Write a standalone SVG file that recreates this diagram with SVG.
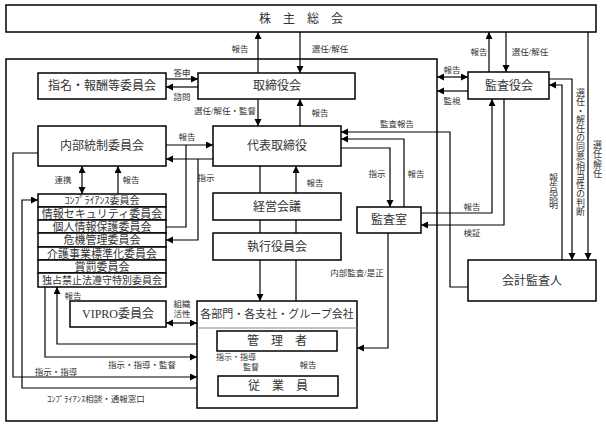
<svg xmlns="http://www.w3.org/2000/svg" width="606" height="427" viewBox="0 0 606 427">
<style>
.b{fill:#fff;stroke:#000;stroke-width:1.5}
.c{fill:none;stroke:#000;stroke-width:1.2}
.t{font-family:'Liberation Serif','Noto Sans CJK JP',serif;fill:#333;text-anchor:middle;dominant-baseline:central}
.n{font-size:12px}
.r{font-size:11px}
.l{font-size:8.5px}
.v{font-family:'Liberation Serif','Noto Sans CJK JP',serif;fill:#333;font-size:9px;writing-mode:vertical-rl;text-anchor:start}
</style>
<defs>
<marker id="a" markerUnits="userSpaceOnUse" markerWidth="8" markerHeight="8" refX="7" refY="3.5" orient="auto-start-reverse"><path d="M0,0L7,3.5L0,7z" fill="#000"/></marker>
</defs>
<rect x="6" y="59" width="431" height="362" fill="none" stroke="#000" stroke-width="1.5"/>
<g id="connectors" class="c">
<path d="M258,73V32" marker-end="url(#a)"/>
<path d="M300,32V73" marker-end="url(#a)"/>
<path d="M166,79H198" marker-end="url(#a)"/>
<path d="M198,87H166" marker-end="url(#a)"/>
<path d="M258,99V126" marker-end="url(#a)"/>
<path d="M300,126V99" marker-end="url(#a)"/>
<path d="M437,77H468" marker-start="url(#a)" marker-end="url(#a)"/>
<path d="M468,91H437" marker-end="url(#a)"/>
<path d="M489,72V32" marker-end="url(#a)"/>
<path d="M506,32V72" marker-end="url(#a)"/>
<path d="M588,32V260" marker-end="url(#a)"/>
<path d="M549,79H572V260" marker-end="url(#a)"/>
<path d="M562,260V85H549" marker-end="url(#a)"/>
<path d="M468,287H450V132H341" marker-end="url(#a)"/>
<path d="M404,207V139H341" marker-end="url(#a)"/>
<path d="M341,148H390V207" marker-end="url(#a)"/>
<path d="M421,213H492V99" marker-end="url(#a)"/>
<path d="M504,99V225H421" marker-end="url(#a)"/>
<path d="M388,233V348H357" marker-end="url(#a)"/>
<path d="M260,166V301" marker-end="url(#a)"/>
<path d="M296,301V166" marker-end="url(#a)"/>
<path d="M166,145H213" marker-end="url(#a)"/>
<path d="M166,227H186V145"/>
<path d="M213,159H166" marker-end="url(#a)"/>
<path d="M198,159V240H166" marker-end="url(#a)"/>
<path d="M82,166V194" marker-start="url(#a)" marker-end="url(#a)"/>
<path d="M118,194V166" marker-end="url(#a)"/>
<path d="M38,153H13V377H197" marker-end="url(#a)"/>
<path d="M218,388H22V200H38" marker-end="url(#a)"/>
<path d="M45,287V357H197" marker-end="url(#a)"/>
<path d="M197,344H57V287" marker-end="url(#a)"/>
<path d="M166,323H197" marker-start="url(#a)" marker-end="url(#a)"/>
<path d="M260,351V376" marker-end="url(#a)"/>
<path d="M295,376V351" marker-end="url(#a)"/>
</g>
<g id="shareholders"><rect class="b" x="6" y="5" width="590" height="27"/><text class="t n" x="301" y="19">株　主　総　会</text></g>
<g id="board"><rect class="b" x="198" y="73" width="157" height="26"/><text class="t n" x="277" y="86">取締役会</text></g>
<g id="nomination"><rect class="b" x="38" y="73" width="128" height="26"/><text class="t n" x="102" y="86">指名・報酬等委員会</text></g>
<g id="auditboard"><rect class="b" x="468" y="72" width="81" height="27"/><text class="t n" x="509" y="86">監査役会</text></g>
<g id="president"><rect class="b" x="213" y="126" width="128" height="40"/><text class="t n" x="277" y="146">代表取締役</text></g>
<g id="internal"><rect class="b" x="38" y="126" width="128" height="40"/><text class="t n" x="102" y="146">内部統制委員会</text></g>
<g id="committees">
<rect class="b" x="38" y="194" width="128" height="13"/><text class="t" font-size="10" x="102" y="200.5">ｺﾝﾌﾟﾗｲｱﾝｽ委員会</text>
<rect class="b" x="38" y="207" width="128" height="13"/><text class="t r" x="102" y="213.5">情報セキュリティ委員会</text>
<rect class="b" x="38" y="220" width="128" height="13"/><text class="t r" x="102" y="226.5">個人情報保護委員会</text>
<rect class="b" x="38" y="233" width="128" height="14"/><text class="t r" x="102" y="240">危機管理委員会</text>
<rect class="b" x="38" y="247" width="128" height="13"/><text class="t r" x="102" y="253.5">介護事業標準化委員会</text>
<rect class="b" x="38" y="260" width="128" height="13"/><text class="t r" x="102" y="266.5">賞罰委員会</text>
<rect class="b" x="38" y="273" width="128" height="14"/><text class="t" font-size="10" x="102" y="280">独占禁止法遵守特別委員会</text>
</g>
<g id="management"><rect class="b" x="213" y="193" width="128" height="27"/><text class="t n" x="277" y="207">経営会議</text></g>
<g id="executive"><rect class="b" x="213" y="233" width="128" height="27"/><text class="t n" x="277" y="247">執行役員会</text></g>
<g id="auditoffice"><rect class="b" x="357" y="207" width="64" height="26"/><text class="t n" x="389" y="220">監査室</text></g>
<g id="accountant"><rect class="b" x="468" y="260" width="128" height="41"/><text class="t n" x="532" y="281">会計監査人</text></g>
<g id="vipro"><rect class="b" x="70" y="301" width="96" height="26"/><text class="t n" x="118" y="314">VIPRO委員会</text></g>
<g id="departments"><rect class="b" x="197" y="301" width="160" height="107"/><line x1="197" y1="328" x2="357" y2="328" stroke="#888" stroke-width="1"/><text class="t r" x="277" y="314">各部門・各支社・グループ会社</text></g>
<g id="managers"><rect class="b" x="217" y="331" width="120" height="20"/><text class="t n" x="277" y="341">管　理　者</text></g>
<g id="employees"><rect class="b" x="218" y="376" width="120" height="20"/><text class="t n" x="278" y="386">従　業　員</text></g>
<g id="labels">
<text class="t l" x="182" y="73">答申</text>
<text class="t l" x="182" y="97">諮問</text>
<text class="t l" x="240" y="49">報告</text>
<text class="t l" x="330" y="49">選任/解任</text>
<text class="t l" x="225" y="111">選任/解任・監督</text>
<text class="t l" x="320" y="113">報告</text>
<text class="t l" x="452" y="70">報告</text>
<text class="t l" x="452" y="101">監視</text>
<text class="t l" x="479" y="52">報告</text>
<text class="t l" x="530" y="52">選任/解任</text>
<text class="t l" x="397" y="124">監査報告</text>
<text class="t l" x="377" y="174">指示</text>
<text class="t l" x="416" y="174">報告</text>
<text class="t l" x="472" y="207">報告</text>
<text class="t l" x="472" y="233">検証</text>
<text class="t l" x="357" y="273">内部監査/是正</text>
<text class="t l" x="187" y="137">報告</text>
<text class="t l" x="206" y="178">指示</text>
<text class="t l" x="63" y="180">連携</text>
<text class="t l" x="131" y="180">報告</text>
<text class="t l" x="315" y="183">報告</text>
<text class="t l" x="73" y="296">報告</text>
<text class="t l" x="182" y="304">組織</text>
<text class="t l" x="182" y="314">活性</text>
<text class="t l" x="142" y="365">指示・指導・監督</text>
<text class="t l" x="56" y="372">指示・指導</text>
<text class="t l" x="96" y="399">ｺﾝﾌﾟﾗｲｱﾝｽ相談・通報窓口</text>
<text class="t" font-size="8" x="236" y="357">指示・指導</text>
<text class="t" font-size="8" x="251" y="367">監督</text>
<text class="t l" x="308" y="365">報告</text>
<text class="v" x="580" y="88">選任・解任の同意/相当性の判断</text>
<text class="v" x="597" y="140">選任/解任</text>
<text class="v" x="553" y="173">報告説明</text>
</g>
</svg>
